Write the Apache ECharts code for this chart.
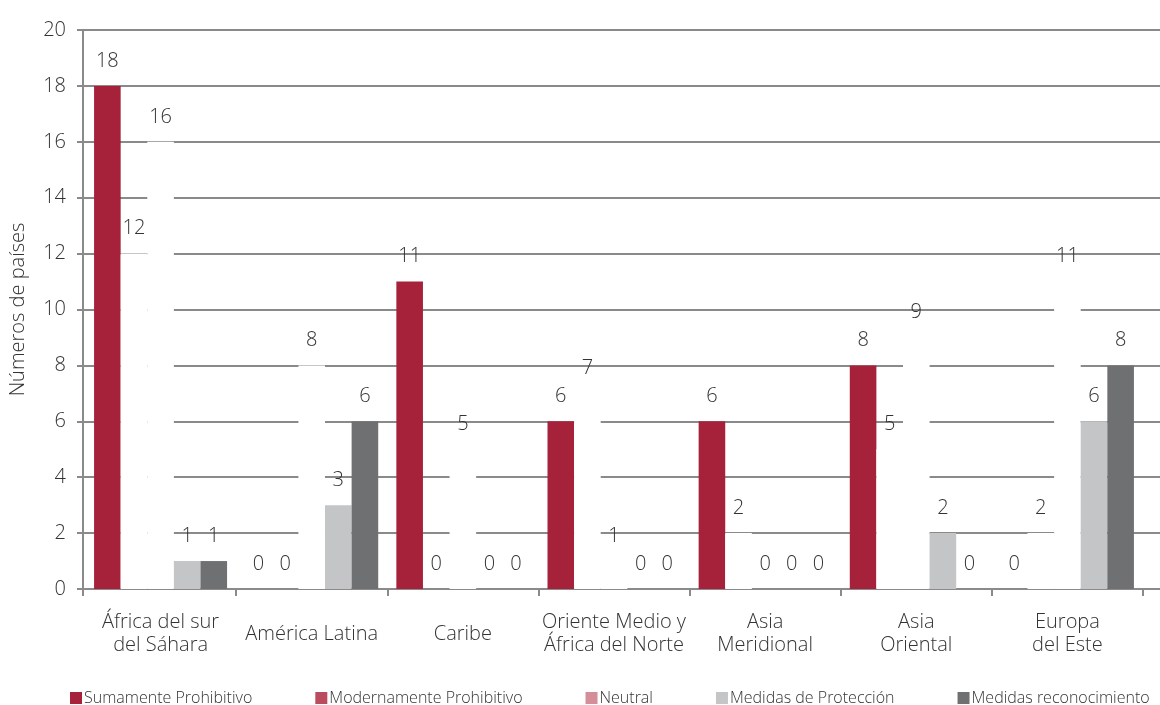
<!DOCTYPE html>
<html>
<head>
<meta charset="utf-8">
<script src="https://cdn.jsdelivr.net/npm/echarts@6/dist/echarts.min.js"></script>
<style>
  html, body { margin: 0; padding: 0; background: #ffffff; }
  #chart { width: 1160px; height: 705px; }
</style>
</head>
<body>
<div id="chart"></div>
<script>
// Regions along the category axis
const regiones = [
  'África del sur\ndel Sáhara',
  'América Latina',
  'Caribe',
  'Oriente Medio y\nÁfrica del Norte',
  'Asia\nMeridional',
  'Asia\nOriental',
  'Europa\ndel Este'
];

// Number of countries per region and legal category
const sumamenteProhibitivo    = [18, 0, 11, 6, 6, 8, 0];
const modernamenteProhibitivo = [12, 0, 0, 7, 2, 5, 2];
const neutral                 = [16, 8, 5, 1, 0, 9, 11];
const medidasProteccion       = [1, 3, 0, 0, 0, 2, 6];
const medidasReconocimiento   = [1, 6, 0, 0, 0, 0, 8];

const nombresSeries = [
  'Sumamente Prohibitivo',
  'Modernamente Prohibitivo',
  'Neutral',
  'Medidas de Protección',
  'Medidas reconocimiento'
];

// Value axis range and step
const yMin = 0;
const yMax = 20;
const yStep = 2;

const FONT = '"Open Sans", "Noto Sans", sans-serif';
const WEIGHT = 300;
const TEXT = '#333333';
const LINE = '#8a8a8a';

// Bar fill and legend swatch for each series
const relleno = ['#a6213a', '#ffffff', '#ffffff', '#c4c5c7', '#6f7072'];
const muestra = ['#a6213a', '#b94c5e', '#d48e99', '#c4c5c7', '#6f7072'];
const datos = [sumamenteProhibitivo, modernamenteProhibitivo, neutral, medidasProteccion, medidasReconocimiento];

const chart = echarts.init(document.getElementById('chart'), null, { renderer: 'canvas' });

const series = datos.map((d, i) => ({
  name: nombresSeries[i],
  type: 'bar',
  xAxisIndex: 0,
  yAxisIndex: 0,
  data: d,
  barGap: '0%',
  barCategoryGap: '12%',
  itemStyle: { color: relleno[i] },
  label: {
    show: true,
    position: 'top',
    distance: 15,
    color: TEXT,
    fontSize: 20,
    fontWeight: WEIGHT,
    fontFamily: FONT
  },
  emphasis: { disabled: true }
}));

chart.setOption({
  animation: false,
  backgroundColor: '#ffffff',
  textStyle: { fontFamily: FONT },
  grid: [
    { left: 85, right: 17, top: 30, bottom: 116, containLabel: false },
    { left: 74, right: 0, top: 30, bottom: 116, containLabel: false }
  ],
  legend: {
    left: 65,
    top: 685,
    itemGap: 63,
    itemWidth: 12,
    itemHeight: 12,
    icon: 'rect',
    selectedMode: false,
    textStyle: { color: TEXT, fontSize: 16, fontWeight: WEIGHT, fontFamily: FONT, padding: [0, 0, 0, -3] },
    data: nombresSeries.map((n, i) => ({ name: n, itemStyle: { color: muestra[i], borderWidth: 0 } }))
  },
  xAxis: [
    {
      type: 'category',
      gridIndex: 0,
      data: regiones,
      boundaryGap: true,
      axisLine: { show: false },
      axisTick: {
        show: true,
        length: 7,
        interval: function (index) { return index !== 0; },
        lineStyle: { color: LINE, width: 2 }
      },
      axisLabel: {
        interval: 0,
        color: TEXT,
        fontSize: 20,
        fontWeight: WEIGHT,
        fontFamily: FONT,
        lineHeight: 23,
        margin: 45,
        verticalAlign: 'middle'
      }
    },
    {
      type: 'value',
      gridIndex: 1,
      min: 0,
      max: 1,
      axisLine: { show: false },
      axisLabel: { show: false },
      splitLine: { show: false },
      axisTick: {
        show: true,
        length: 7,
        customValues: [0],
        lineStyle: { color: LINE, width: 2 }
      }
    }
  ],
  yAxis: [
    {
      type: 'value',
      gridIndex: 0,
      min: yMin,
      max: yMax,
      interval: yStep,
      show: false
    },
    {
      type: 'value',
      gridIndex: 1,
      min: yMin,
      max: yMax,
      interval: yStep,
      name: 'Números de países',
      nameLocation: 'middle',
      nameGap: 55,
      nameRotate: 90,
      nameTextStyle: { color: TEXT, fontSize: 20, fontWeight: WEIGHT, fontFamily: FONT },
      axisLine: { show: true, lineStyle: { color: LINE, width: 2 } },
      axisTick: { show: true, length: 6, lineStyle: { color: LINE, width: 2 } },
      splitLine: { show: true, lineStyle: { color: LINE, width: 2 } },
      axisLabel: { color: TEXT, fontSize: 20, fontWeight: WEIGHT, fontFamily: FONT, margin: 17 }
    }
  ],
  series: series
});
</script>
</body>
</html>
